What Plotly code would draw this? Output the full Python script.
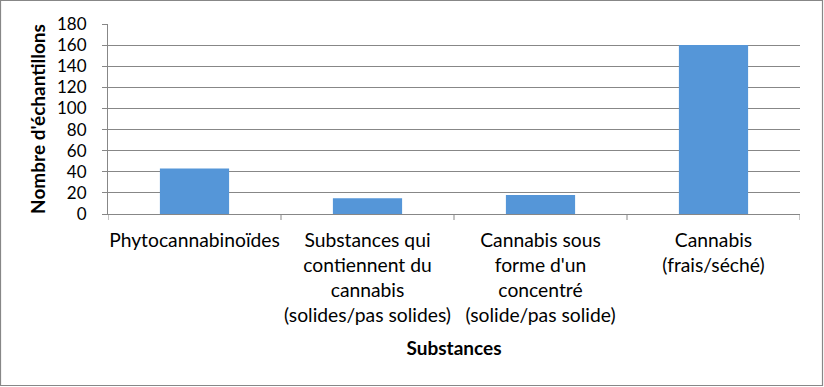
import plotly.graph_objects as go

categories = ["Phytocannabinoïdes",
              "Substances qui<br>contiennent du<br>cannabis<br>(solides/pas solides)",
              "Cannabis sous<br>forme d'un<br>concentré<br>(solide/pas solide)",
              "Cannabis<br>(frais/séché)"]
values = [43, 15, 18, 160]
y_ticks = [0, 20, 40, 60, 80, 100, 120, 140, 160, 180]

W, H = 824, 387
ml, mr, mt, mb = 108, 24, 24, 173
pw, ph = W - ml - mr, H - mt - mb
FONT = "Lato, Calibri, sans-serif"
GRID = "#878787"

fig = go.Figure(go.Bar(
    x=list(range(len(categories))), y=values,
    marker=dict(color="#5596d8", line=dict(width=0)),
    width=0.4,
))

fig.update_layout(
    width=W, height=H,
    margin=dict(l=ml, r=mr, t=mt, b=mb),
    paper_bgcolor="white", plot_bgcolor="white",
    showlegend=False,
    font=dict(family=FONT, color="#000000", size=19),
    xaxis=dict(
        tickmode="array",
        tickvals=list(range(len(categories))),
        ticktext=categories,
        range=[-0.5, len(categories) - 0.5],
        showgrid=False, zeroline=False,
        showline=True, linecolor=GRID, linewidth=1,
        ticks="", tickfont=dict(size=19.3, family=FONT),
        ticklabelstandoff=9,
        title=dict(text="<b>Substances</b>", font=dict(size=19, family=FONT), standoff=16),
    ),
    yaxis=dict(
        range=[0, 180], tickvals=y_ticks,
        showgrid=True, gridcolor=GRID, gridwidth=1,
        zeroline=False,
        showline=True, linecolor=GRID, linewidth=1,
        ticks="outside", ticklen=5, tickcolor=GRID,
        tickfont=dict(size=17, family=FONT),
        ticklabelstandoff=12,
        title=dict(text="<b>Nombre d'échantillons</b>", font=dict(size=19, family=FONT), standoff=6),
    ),
)

shapes = []
for b in [i - 0.5 for i in range(len(categories) + 1)]:
    shapes.append(dict(type="line", xref="x", yref="paper", x0=b, x1=b, y0=0, y1=-6 / ph,
                       line=dict(color=GRID, width=1)))
shapes.append(dict(type="rect", xref="paper", yref="paper",
                   x0=-(ml - 0.5) / pw, x1=1 + (mr - 1.5) / pw,
                   y0=-(mb - 1.5) / ph, y1=1 + (mt - 0.5) / ph,
                   line=dict(color=GRID, width=1.2), fillcolor="rgba(0,0,0,0)", layer="above"))
fig.update_layout(shapes=shapes)

fig.write_html("out.html")
